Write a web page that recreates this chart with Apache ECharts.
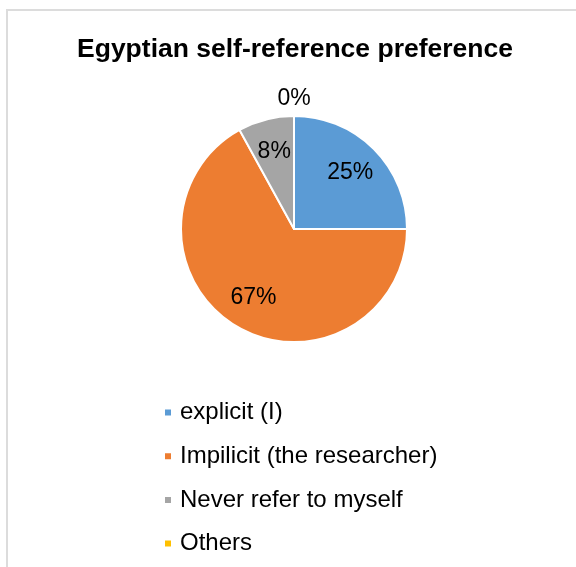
<!DOCTYPE html>
<html>
<head>
<meta charset="utf-8">
<script src="https://cdn.jsdelivr.net/npm/echarts@6/dist/echarts.min.js"></script>
<style>
  html, body { margin: 0; padding: 0; background: #fff; }
  #frame {
    position: absolute; left: 6px; top: 9px; width: 600px; height: 600px;
    border-top: 2px solid #dcdcdc; border-left: 2px solid #dcdcdc;
  }
  #chart { position: absolute; left: 0; top: 0; width: 576px; height: 567px; }
</style>
</head>
<body>
<div id="frame"></div>
<div id="chart"></div>
<script>
// data
const categories = ['explicit (I)', 'Impilicit (the researcher)', 'Never refer to myself', 'Others']
const shares = [25, 67, 8, 0]
const colors = ['#5B9BD5', '#ED7D31', '#A5A5A5', '#FFC000']

const chart = echarts.init(document.getElementById('chart'))
const font = 'Liberation Sans, Arial, sans-serif'

const pieData = categories.map((name, i) => ({
  name: name,
  value: shares[i],
  itemStyle: { color: colors[i] }
}))

// invisible rings that only carry the labels (excel puts them further out)
const innerLabels = categories.map((name, i) => ({
  name: name,
  value: shares[i],
  label: { show: shares[i] > 0 }
}))
const outerLabels = categories.map((name, i) => ({
  name: name,
  value: shares[i],
  label: { show: shares[i] === 0 }
}))

const labelRing = (radius, data) => ({
  type: 'pie',
  silent: true,
  center: [294, 229],
  radius: radius,
  startAngle: 90,
  clockwise: true,
  avoidLabelOverlap: false,
  stillShowZeroSum: true,
  itemStyle: { color: 'rgba(0,0,0,0)' },
  label: {
    position: 'inside',
    formatter: '{c}%',
    fontFamily: font,
    fontSize: 23,
    color: '#000'
  },
  labelLine: { show: false },
  data: data
})

chart.setOption({
  color: colors,
  animation: false,
  title: {
    text: 'Egyptian self-reference preference',
    left: 290,
    top: 31,
    textAlign: 'center',
    textStyle: {
      fontFamily: font,
      fontSize: 26.5,
      fontWeight: 'bold',
      color: '#000'
    }
  },
  legend: {
    orient: 'vertical',
    left: 163,
    top: 399,
    padding: 0,
    itemWidth: 8,
    itemHeight: 8,
    itemGap: 16.7,
    icon: 'rect',
    data: categories.map((name, i) => ({ name: name, itemStyle: { color: colors[i] } })),
    textStyle: {
      fontFamily: font,
      fontSize: 24,
      lineHeight: 27,
      color: '#000',
      padding: [0, 0, 0, 3]
    }
  },
  series: [
    {
      name: 'pie',
      type: 'pie',
      center: [294, 229],
      radius: 113,
      startAngle: 90,
      clockwise: true,
      stillShowZeroSum: true,
      itemStyle: { borderColor: '#fff', borderWidth: 2 },
      label: { show: false },
      labelLine: { show: false },
      data: pieData
    },
    labelRing([40, 113], innerLabels),
    labelRing([123, 131], outerLabels)
  ]
})
</script>
</body>
</html>
